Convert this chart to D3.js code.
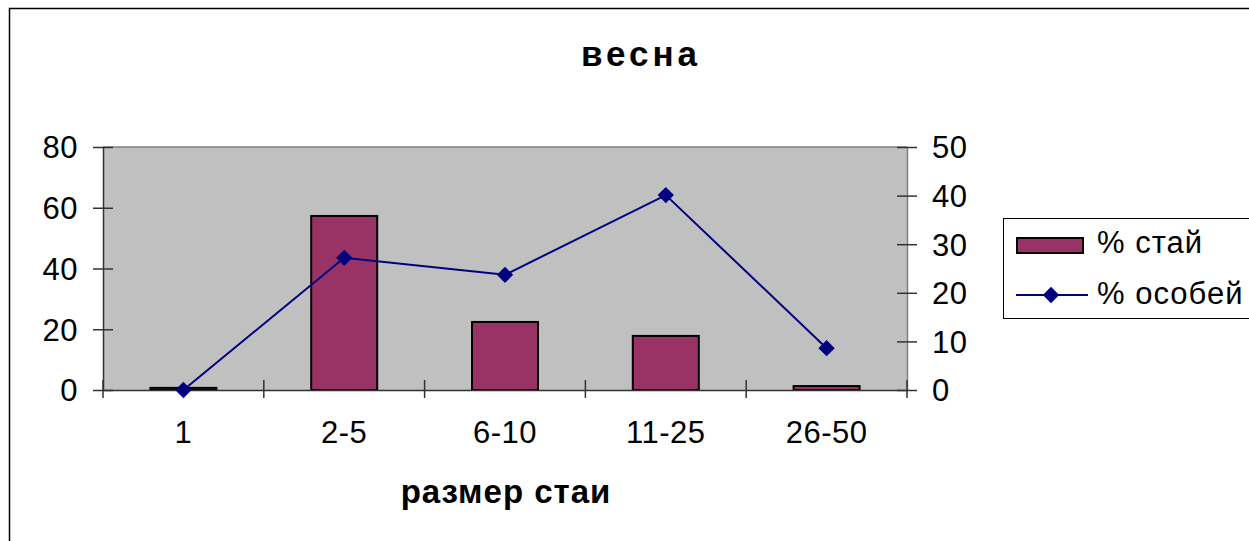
<!DOCTYPE html>
<meta charset="utf-8">
<style>
  body { margin: 0; background: #fff; }
  text { font-family: "Liberation Sans", Arial, sans-serif; }
</style>
<script src="https://d3js.org/d3.v7.min.js"></script>
<div id="chart"></div>
<script>
// data
var categories = ["1", "2-5", "6-10", "11-25", "26-50"];
var flocks = [0.7, 57.3, 22.4, 17.8, 1.3];      // % стай (left axis)
var birds = [0, 27.2, 23.7, 40.1, 8.6];         // % особей (right axis)
var leftTicks = [0, 20, 40, 60, 80];
var rightTicks = [0, 10, 20, 30, 40, 50];

var W = 1249, H = 541;
var plot = {left: 103, right: 907, top: 147, bottom: 390};

var svg = d3.select("#chart").append("svg")
  .attr("width", W).attr("height", H);

// outer frame
svg.append("rect")
  .attr("x", 9.5).attr("y", 8.5)
  .attr("width", 1260).attr("height", 560)
  .attr("fill", "none").attr("stroke", "#000").attr("stroke-width", 1.5);

// title
svg.append("text")
  .attr("x", 641).attr("y", 66)
  .attr("text-anchor", "middle")
  .style("font-size", "35px").style("font-weight", "bold")
  .style("letter-spacing", "4px")
  .text("весна");

var x = d3.scaleBand()
  .domain(categories)
  .range([plot.left, plot.right]);

var yL = d3.scaleLinear().domain([0, 80]).range([plot.bottom, plot.top]);
var yR = d3.scaleLinear().domain([0, 50]).range([plot.bottom, plot.top]);

// plot background
svg.append("rect")
  .attr("x", plot.left).attr("y", plot.top)
  .attr("width", plot.right - plot.left).attr("height", plot.bottom - plot.top)
  .attr("fill", "#c0c0c0");
svg.append("line")
  .attr("x1", plot.left).attr("x2", plot.right)
  .attr("y1", plot.top).attr("y2", plot.top)
  .attr("stroke", "#808080").attr("stroke-width", 1.5);

// bars
var barW = 66;
svg.selectAll(".bar")
  .data(flocks)
  .enter().append("rect")
    .attr("class", "bar")
    .attr("x", function(d, i) { return x(categories[i]) + x.bandwidth() / 2 - barW / 2; })
    .attr("y", function(d) { return yL(d); })
    .attr("width", barW)
    .attr("height", function(d) { return yL(0) - yL(d); })
    .attr("fill", "#993366")
    .attr("stroke", "#000").attr("stroke-width", 2);

var tickFont = function(sel) {
  sel.style("font-size", "31px").style("letter-spacing", "0.5px").attr("fill", "#000");
};

// left axis
var axL = svg.append("g")
  .attr("transform", "translate(" + plot.left + ",0)")
  .call(d3.axisLeft(yL).tickValues(leftTicks).tickSizeInner(10).tickSizeOuter(0).tickPadding(15));
axL.selectAll(".tick line").attr("x2", 10).attr("x1", -10);
axL.select(".domain").attr("stroke", "#333").attr("stroke-width", 1.5);
axL.selectAll(".tick line").attr("stroke", "#333").attr("stroke-width", 1.5);
axL.selectAll("text").call(tickFont).attr("dy", "0.35em");

// right axis
var axR = svg.append("g")
  .attr("transform", "translate(" + plot.right + ",0)")
  .call(d3.axisRight(yR).tickValues(rightTicks).tickSizeInner(10).tickSizeOuter(0).tickPadding(15));
axR.selectAll(".tick line").attr("x1", -10).attr("x2", 10);
axR.select(".domain").attr("stroke", "#808080").attr("stroke-width", 1.5);
axR.selectAll(".tick line").attr("stroke", "#333").attr("stroke-width", 1.5);
axR.selectAll("text").call(tickFont).attr("dy", "0.35em");

// bottom axis
var axB = svg.append("g")
  .attr("transform", "translate(0," + plot.bottom + ")")
  .call(d3.axisBottom(x).tickSize(0).tickPadding(31));
axB.select(".domain").attr("stroke", "#333").attr("stroke-width", 1.5);
axB.selectAll("text").call(tickFont).attr("dy", "0.71em");
var bounds = categories.map(function(c) { return x(c); }).concat([plot.right]);
axB.selectAll(".bound")
  .data(bounds)
  .enter().append("line")
    .attr("class", "bound")
    .attr("x1", function(d) { return d; }).attr("x2", function(d) { return d; })
    .attr("y1", -10).attr("y2", 8)
    .attr("stroke", "#333").attr("stroke-width", 1.5);

svg.append("text")
  .attr("x", 506).attr("y", 503)
  .attr("text-anchor", "middle")
  .style("font-size", "33px").style("font-weight", "bold")
  .style("letter-spacing", "1px")
  .text("размер стаи");

// line series
var cx = function(d, i) { return x(categories[i]) + x.bandwidth() / 2; };
svg.append("path")
  .datum(birds)
  .attr("fill", "none")
  .attr("stroke", "#000080").attr("stroke-width", 2)
  .attr("d", d3.line().x(cx).y(function(d) { return yR(d); }));

var diamond = d3.symbol().type(d3.symbolDiamond2).size(170);
svg.selectAll(".pt")
  .data(birds)
  .enter().append("path")
    .attr("class", "pt")
    .attr("transform", function(d, i) { return "translate(" + cx(d, i) + "," + yR(d) + ")"; })
    .attr("d", diamond)
    .attr("fill", "#000080");

// legend
var lg = svg.append("g");
lg.append("rect")
  .attr("x", 1003.5).attr("y", 218.5)
  .attr("width", 260).attr("height", 100)
  .attr("fill", "#fff").attr("stroke", "#000").attr("stroke-width", 1);
lg.append("rect")
  .attr("x", 1017).attr("y", 238)
  .attr("width", 66).attr("height", 15)
  .attr("fill", "#993366").attr("stroke", "#000").attr("stroke-width", 2);
lg.append("text")
  .attr("x", 1097).attr("y", 253)
  .style("font-size", "31px").style("letter-spacing", "1px")
  .text("% стай");
lg.append("line")
  .attr("x1", 1016).attr("x2", 1088)
  .attr("y1", 295).attr("y2", 295)
  .attr("stroke", "#000080").attr("stroke-width", 2);
lg.append("path")
  .attr("transform", "translate(1051,295)")
  .attr("d", diamond)
  .attr("fill", "#000080");
lg.append("text")
  .attr("x", 1097).attr("y", 304)
  .style("font-size", "31px").style("letter-spacing", "1px")
  .text("% особей");
</script>
